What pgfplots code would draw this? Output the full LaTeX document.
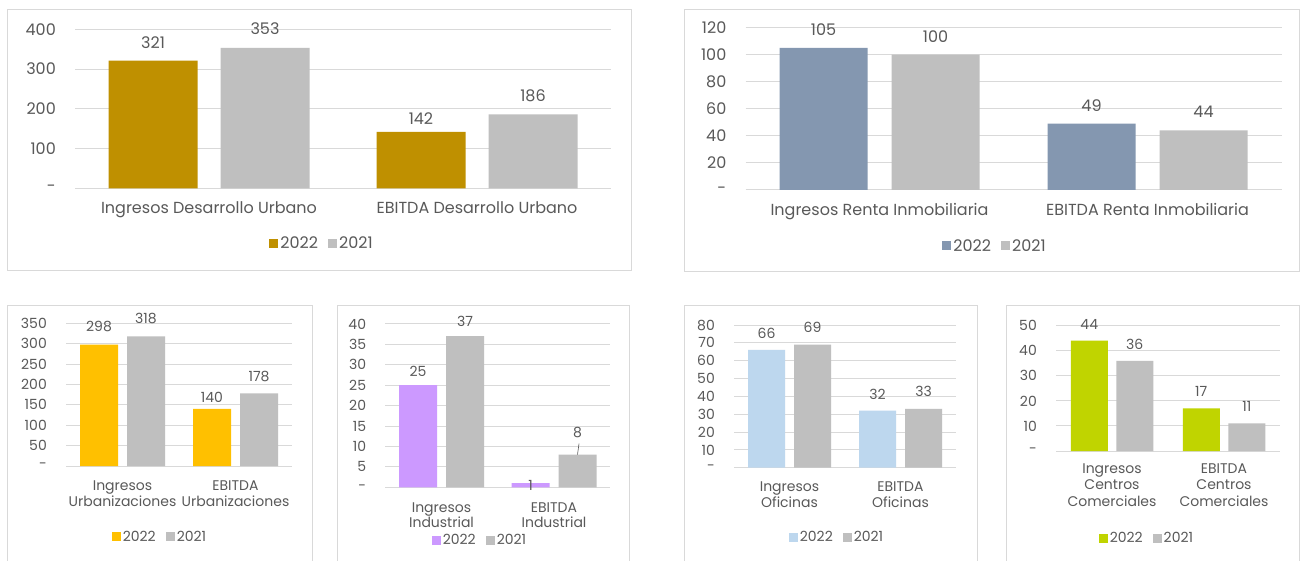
\documentclass[border=0pt]{standalone}
\usepackage{fontspec}
\setmainfont{Poppins}
\usepackage{pgfplots}
\pgfplotsset{compat=1.18}
\usepackage{pgfplotstable}

\definecolor{dorado}{HTML}{BF9000}
\definecolor{gris}{HTML}{BFBFBF}
\definecolor{pizarra}{HTML}{8497B0}
\definecolor{amarillo}{HTML}{FFC000}
\definecolor{lila}{HTML}{CC99FF}
\definecolor{celeste}{HTML}{BDD7EE}
\definecolor{lima}{HTML}{C0D400}
\definecolor{textogris}{HTML}{595959}
\definecolor{rejilla}{HTML}{D9D9D9}

\newcommand\fa{\fontsize{16}{18}\selectfont}
\newcommand\fb{\fontsize{14}{16.5}\selectfont}

% x = categoria, y22/y21 = valores, d22/d21 = desplazamiento de la etiqueta (pt)
\pgfplotstableread{
x y22 d22 y21 d21
0 321 12.2 353 12.9
1 142 6.9 186 12.8
}\tDU
\pgfplotstableread{
x y22 d22 y21 d21
0 105 12.5 100 12.1
1 49 12.5 44 12.9
}\tRI
\pgfplotstableread{
x y22 d22 y21 d21
0 298 12.9 318 12.1
1 140 6.1 178 11.8
}\tUR
\pgfplotstableread{
x y22 d22 y21 d21
0 25 8.7 37 9.1
1 1 -7.6 8 17.1
}\tIN
\pgfplotstableread{
x y22 d22 y21 d21
0 66 11.1 69 11.8
1 32 11.1 33 12.1
}\tOF
\pgfplotstableread{
x y22 d22 y21 d21
0 44 11.1 36 10.8
1 17 11.4 11 12.1
}\tCC

\pgfplotsset{
  panel/.style={
    scale only axis,
    anchor=south west,
    ybar,
    xmin=-0.5, xmax=1.5, ymin=0,
    xtick={0,1},
    axis line style={draw=none},
    major tick length=0pt,
    ymajorgrids,
    grid style={draw=rejilla, line width=1pt},
    tick label style={text=textogris},
    yticklabel style={anchor=east, inner sep=0pt, xshift=-19pt},
    xticklabel style={anchor=north, inner sep=0pt, align=center},
    nodes near coords,
    /pgf/number format/assume math mode=true,
    nodes near coords style={text=textogris, anchor=south, inner sep=0pt, yshift=\dy pt},
    legend columns=2,
    legend style={draw=none, fill=none, anchor=center, text=textogris,
      /tikz/every even column/.append style={column sep=8pt}},
    legend image code/.code={\fill[##1] (0pt,-4.5pt) rectangle (9pt,4.5pt);},
    clip=false,
  },
  grande/.style={panel, font=\fa, tick label style={font=\fa},
    nodes near coords style={font=\fa}, legend style={font=\fa},
    bar width=89pt},
  chico/.style={panel, font=\fb, tick label style={font=\fb},
    nodes near coords style={font=\fb}, legend style={font=\fb}},
}

\begin{document}
\begin{tikzpicture}
\useasboundingbox (0pt,0pt) rectangle (1301pt,560pt);
\fill[white] (0pt,0pt) rectangle (1301pt,560pt);

% marcos de los paneles
\begin{scope}[rejilla, line width=1pt]
\draw (7pt,289pt) rectangle (631pt,550pt);
\draw (684pt,288pt) rectangle (1299pt,550pt);
\draw (7pt,-5pt) rectangle (312pt,254pt);
\draw (337pt,-5pt) rectangle (629pt,254pt);
\draw (684pt,-5pt) rectangle (977pt,254pt);
\draw (1006pt,-5pt) rectangle (1299pt,254pt);
\end{scope}

% Desarrollo Urbano
\begin{axis}[grande, at={(75pt,371.7pt)}, width=536pt, height=159pt,
    ymax=400, ytick={0,100,200,300,400},
    yticklabels={{-\hspace{6pt}},100,200,300,400},
    xticklabels={Ingresos Desarrollo Urbano, EBITDA Desarrollo Urbano},
    xticklabel style={yshift=-13.5pt},
    legend style={at={(0.461,-0.347)}}]
\addplot[fill=dorado, draw=none, bar shift=-56pt,
  visualization depends on={\thisrow{d22}\as\dy}] table[x=x, y=y22] {\tDU};
\addplot[fill=gris, draw=none, bar shift=56pt,
  visualization depends on={\thisrow{d21}\as\dy}] table[x=x, y=y21] {\tDU};
\legend{2022,2021}
\end{axis}

% Renta Inmobiliaria
\begin{axis}[grande, at={(745.5pt,370pt)}, width=536pt, height=162.3pt,
    bar width=88pt,
    ymax=120, ytick={0,20,40,60,80,100,120},
    yticklabels={{-\hspace{6pt}},20,40,60,80,100,120},
    xticklabels={Ingresos Renta Inmobiliaria, EBITDA Renta Inmobiliaria},
    xticklabel style={yshift=-13pt},
    legend style={at={(0.4655,-0.345)}}]
\addplot[fill=pizarra, draw=none, bar shift=-56pt,
  visualization depends on={\thisrow{d22}\as\dy}] table[x=x, y=y22] {\tRI};
\addplot[fill=gris, draw=none, bar shift=56pt,
  visualization depends on={\thisrow{d21}\as\dy}] table[x=x, y=y21] {\tRI};
\legend{2022,2021}
\end{axis}

% Urbanizaciones
\begin{axis}[chico, at={(66pt,94pt)}, width=226pt, height=142.7pt,
    bar width=38pt,
    ymax=350, ytick={0,50,100,150,200,250,300,350},
    yticklabels={{-\hspace{6pt}},50,100,150,200,250,300,350},
    xticklabels={{Ingresos\\Urbanizaciones},{EBITDA\\Urbanizaciones}},
    xticklabel style={yshift=-14.5pt},
    legend style={at={(0.416,-0.495)}}]
\addplot[fill=amarillo, draw=none, bar shift=-23.5pt,
  visualization depends on={\thisrow{d22}\as\dy}] table[x=x, y=y22] {\tUR};
\addplot[fill=gris, draw=none, bar shift=23.5pt,
  visualization depends on={\thisrow{d21}\as\dy}] table[x=x, y=y21] {\tUR};
\legend{2022,2021}
\end{axis}

% Industrial
\begin{axis}[chico, at={(385.25pt,72.7pt)}, width=225pt, height=163.3pt,
    bar width=38pt,
    ymax=40, ytick={0,5,10,15,20,25,30,35,40},
    yticklabels={{-\hspace{6pt}},5,10,15,20,25,30,35,40},
    xticklabels={{Ingresos\\Industrial},{EBITDA\\Industrial}},
    xticklabel style={yshift=-15.2pt, font=\fontsize{14}{15.5}\selectfont},
    legend style={at={(0.421,-0.323)}}]
\addplot[fill=lila, draw=none, bar shift=-23.5pt,
  visualization depends on={\thisrow{d22}\as\dy}] table[x=x, y=y22] {\tIN};
\addplot[fill=gris, draw=none, bar shift=23.5pt,
  visualization depends on={\thisrow{d21}\as\dy}] table[x=x, y=y21] {\tIN};
\draw[textogris, line width=0.6pt] ([xshift=23.5pt]axis cs:1,8) -- ([xshift=25pt,yshift=11pt]axis cs:1,8);
\legend{2022,2021}
\end{axis}

% Oficinas
\begin{axis}[chico, at={(734pt,92.3pt)}, width=222pt, height=142.7pt,
    bar width=37pt,
    ymax=80, ytick={0,10,20,30,40,50,60,70,80},
    yticklabels={{-\hspace{6pt}},10,20,30,40,50,60,70,80},
    xticklabels={{Ingresos\\Oficinas},{EBITDA\\Oficinas}},
    xticklabel style={yshift=-13.8pt},
    legend style={at={(0.464,-0.488)}}]
\addplot[fill=celeste, draw=none, bar shift=-23pt,
  visualization depends on={\thisrow{d22}\as\dy}] table[x=x, y=y22] {\tOF};
\addplot[fill=gris, draw=none, bar shift=23pt,
  visualization depends on={\thisrow{d21}\as\dy}] table[x=x, y=y21] {\tOF};
\legend{2022,2021}
\end{axis}

% Centros Comerciales
\begin{axis}[chico, at={(1056pt,109pt)}, width=224pt, height=125.3pt,
    bar width=37pt,
    ymax=50, ytick={0,10,20,30,40,50},
    yticklabels={{-\hspace{6pt}},10,20,30,40,50},
    xticklabels={{Ingresos\\Centros\\Comerciales},{EBITDA\\Centros\\Comerciales}},
    xticklabel style={yshift=-12.5pt},
    legend style={at={(0.406,-0.697)}}]
\addplot[fill=lima, draw=none, bar shift=-22.75pt,
  visualization depends on={\thisrow{d22}\as\dy}] table[x=x, y=y22] {\tCC};
\addplot[fill=gris, draw=none, bar shift=22.75pt,
  visualization depends on={\thisrow{d21}\as\dy}] table[x=x, y=y21] {\tCC};
\legend{2022,2021}
\end{axis}
\end{tikzpicture}
\end{document}
